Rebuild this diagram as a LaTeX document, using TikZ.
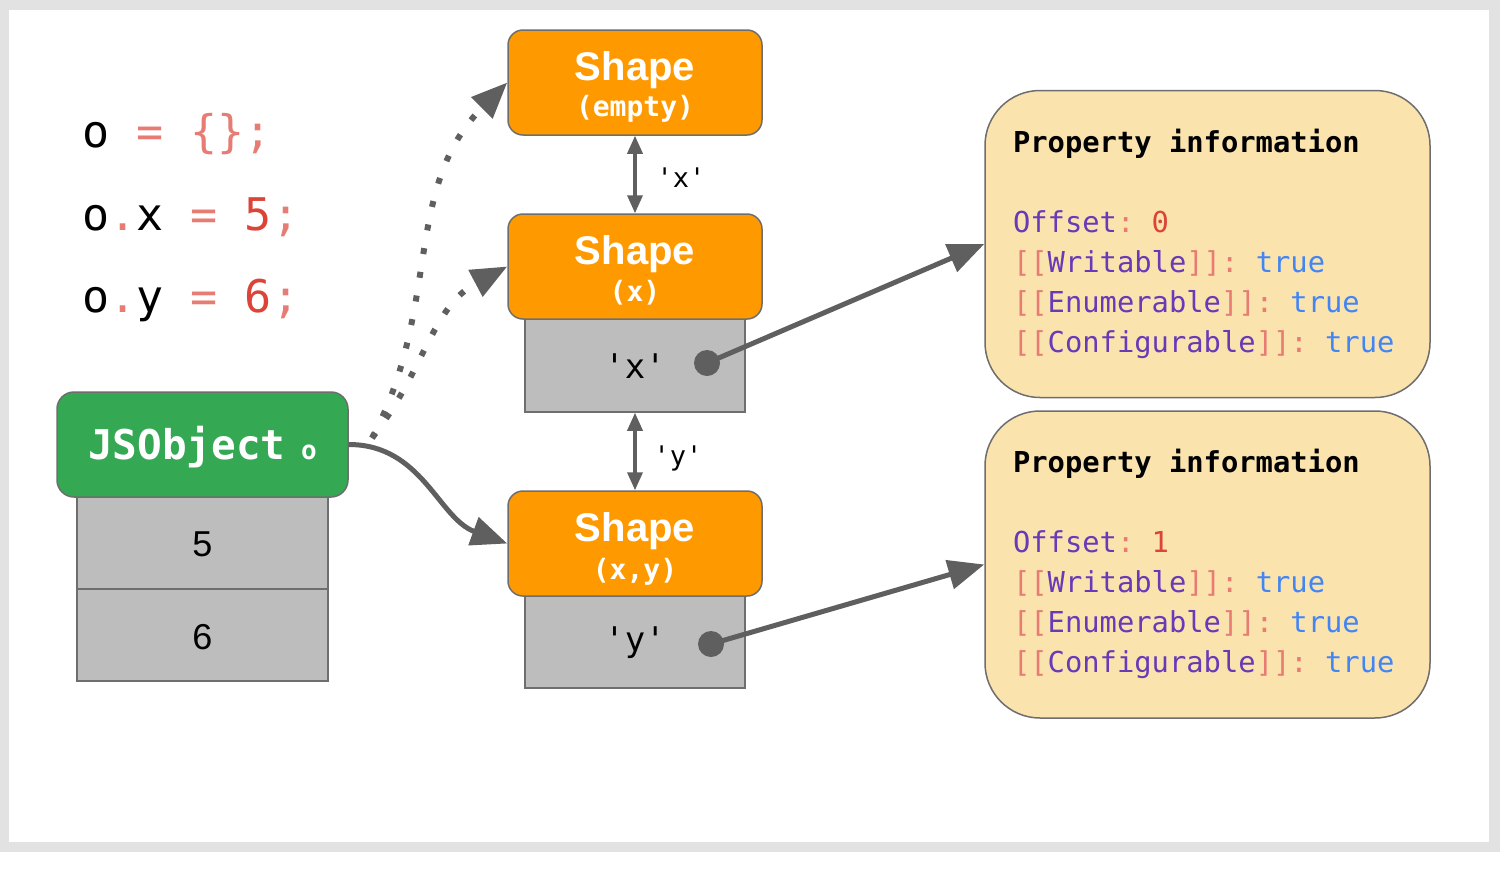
\documentclass[tikz,border=0pt]{standalone}
\usepackage{fontspec}
\setmainfont{Liberation Sans}
\setmonofont{DejaVu Sans Mono}
\usetikzlibrary{arrows.meta}
\definecolor{bggray}{HTML}{E2E2E2}
\definecolor{cgray}{HTML}{5F5F5F}
\definecolor{bordergray}{HTML}{6E6E6E}
\definecolor{cellgray}{HTML}{BDBDBD}
\definecolor{jsgreen}{HTML}{34A853}
\definecolor{shorange}{HTML}{FF9900}
\definecolor{propfill}{HTML}{FBE3AE}
\definecolor{salmon}{HTML}{E67C73}
\definecolor{redv}{HTML}{DB4437}
\definecolor{purp}{HTML}{673AB7}
\definecolor{bluev}{HTML}{4285F4}
\newcommand\myfs[1]{\fontsize{#1}{#1}\selectfont}
\begin{document}
\begin{tikzpicture}[x=1pt,y=-1pt,
  txt/.style={inner sep=0pt, outer sep=0pt, text=black},
  cellbox/.style={draw=bordergray, fill=cellgray, line width=1.5pt, minimum width=#1, minimum height=92pt, inner sep=0pt},
  shapebox/.style={draw=bordergray, fill=shorange, line width=1.5pt, rounded corners=15pt, minimum width=254pt, minimum height=105pt, inner sep=0pt},
  jsbox/.style={draw=bordergray, fill=jsgreen, line width=1.5pt, rounded corners=17pt, minimum width=291pt, minimum height=105pt, inner sep=0pt},
  propbox/.style={draw=bordergray, fill=propfill, line width=1.5pt, rounded corners=55pt, minimum width=445pt, minimum height=307pt, inner sep=0pt},
  dotn/.style={circle, fill=cgray, minimum size=26pt, inner sep=0pt},
  conn/.style={draw=cgray, line width=5pt},
  dotc/.style={draw=cgray, line width=6pt, dash pattern=on 6pt off 18pt},
  bigtip/.style={-{Triangle[length=36pt,width=29pt]}},
  dbl/.style={draw=cgray, line width=3.5pt, {Triangle[length=18pt,width=15pt]}-{Triangle[length=18pt,width=15pt]}},
  ptxt/.style={txt, anchor=base west, font=\ttfamily\myfs{28.8}},
]
\useasboundingbox (0,0) rectangle (1500,868);
\fill[white] (0,0) rectangle (1500,868);
\fill[bggray] (0,0) rectangle (1500,852);
\fill[white] (9,10) rectangle (1489,842);

% code
\node[txt, anchor=base west] (code1) at (82.4,147) {\ttfamily\myfs{45}o \textcolor{salmon}{= \{\};}};
\node[txt, anchor=base west] (code2) at (82.4,230) {\ttfamily\myfs{45}o\textcolor{salmon}{.}x \textcolor{salmon}{=} \textcolor{redv}{5}\textcolor{salmon}{;}};
\node[txt, anchor=base west] (code3) at (82.4,312) {\ttfamily\myfs{45}o\textcolor{salmon}{.}y \textcolor{salmon}{=} \textcolor{redv}{6}\textcolor{salmon}{;}};

% JSObject
\node[cellbox=251pt] (v5) at (202.5,543) {};
\node[cellbox=251pt] (v6) at (202.5,635) {};
\node[txt, anchor=base] (v5t) at (202.5,556) {\myfs{36}5};
\node[txt, anchor=base] (v6t) at (202.5,649) {\myfs{36}6};
\node[jsbox] (jso) at (202.5,444.5) {};
\node[txt, anchor=base, text=white] (jsot) at (202.5,459) {\ttfamily\bfseries\myfs{41}JSObject{\myfs{26} o}};

% shapes
\node[cellbox=220pt, minimum height=93pt] (cx) at (635,365.5) {};
\node[cellbox=220pt] (cy) at (635,642) {};
\node[shapebox] (sh1) at (635,82.5) {};
\node[shapebox] (sh2) at (635,266.5) {};
\node[shapebox] (sh3) at (635,543.5) {};
\node[txt, anchor=base, text=white] (sh1a) at (635,80) {\bfseries\myfs{40}Shape};
\node[txt, anchor=base, text=white] (sh1b) at (635,116) {\ttfamily\bfseries\myfs{28}(empty)};
\node[txt, anchor=base, text=white] (sh2a) at (635,264) {\bfseries\myfs{40}Shape};
\node[txt, anchor=base, text=white] (sh2b) at (635,301) {\ttfamily\bfseries\myfs{28}(x)};
\node[txt, anchor=base, text=white] (sh3a) at (635,541) {\bfseries\myfs{40}Shape};
\node[txt, anchor=base, text=white] (sh3b) at (635,579) {\ttfamily\bfseries\myfs{28}(x,y)};
\node[txt, anchor=base] (cxt) at (635,378) {\ttfamily\myfs{34}'x'};
\node[txt, anchor=base] (cyt) at (635,651) {\ttfamily\myfs{34}'y'};

% transitions
\draw[dbl] (sh1.south) -- (sh2.north);
\draw[dbl] (cx.south) -- (sh3.north);
\node[txt, anchor=base] (lx) at (681,187) {\ttfamily\myfs{27}'x'};
\node[txt, anchor=base] (ly) at (678,465) {\ttfamily\myfs{27}'y'};

% property boxes
\node[propbox] (pi1) at (1207.5,244) {};
\node[propbox] (pi2) at (1207.5,564.5) {};
\node[ptxt] (p1a) at (1013,152) {\bfseries Property information};
\node[ptxt] (p1b) at (1013,232) {\textcolor{purp}{Offset}\textcolor{salmon}{:} \textcolor{redv}{0}};
\node[ptxt] (p1c) at (1013,272) {\textcolor{salmon}{[[}\textcolor{purp}{Writable}\textcolor{salmon}{]]:} \textcolor{bluev}{true}};
\node[ptxt] (p1d) at (1013,312) {\textcolor{salmon}{[[}\textcolor{purp}{Enumerable}\textcolor{salmon}{]]:} \textcolor{bluev}{true}};
\node[ptxt] (p1e) at (1013,352) {\textcolor{salmon}{[[}\textcolor{purp}{Configurable}\textcolor{salmon}{]]:} \textcolor{bluev}{true}};
\node[ptxt] (p2a) at (1013,472) {\bfseries Property information};
\node[ptxt] (p2b) at (1013,552) {\textcolor{purp}{Offset}\textcolor{salmon}{:} \textcolor{redv}{1}};
\node[ptxt] (p2c) at (1013,592) {\textcolor{salmon}{[[}\textcolor{purp}{Writable}\textcolor{salmon}{]]:} \textcolor{bluev}{true}};
\node[ptxt] (p2d) at (1013,632) {\textcolor{salmon}{[[}\textcolor{purp}{Enumerable}\textcolor{salmon}{]]:} \textcolor{bluev}{true}};
\node[ptxt] (p2e) at (1013,672) {\textcolor{salmon}{[[}\textcolor{purp}{Configurable}\textcolor{salmon}{]]:} \textcolor{bluev}{true}};

% dots and pointers
\node[dotn] (d1) at (707,363) {};
\node[dotn] (d2) at (711,644) {};
\draw[conn, bigtip] (d1.center) -- (pi1.west);
\draw[conn, bigtip] (d2.center) -- (pi2.west);

% object -> shapes
\coordinate (ds) at (372,438);
\draw[dotc, bigtip] (ds) to[out=62,in=225] (sh1.west);
\draw[dotc, bigtip] (ds) to[out=52,in=208] (sh2.west);
\draw[conn, bigtip] (jso.east) to[out=0,in=160] (sh3.west);
\end{tikzpicture}
\end{document}
